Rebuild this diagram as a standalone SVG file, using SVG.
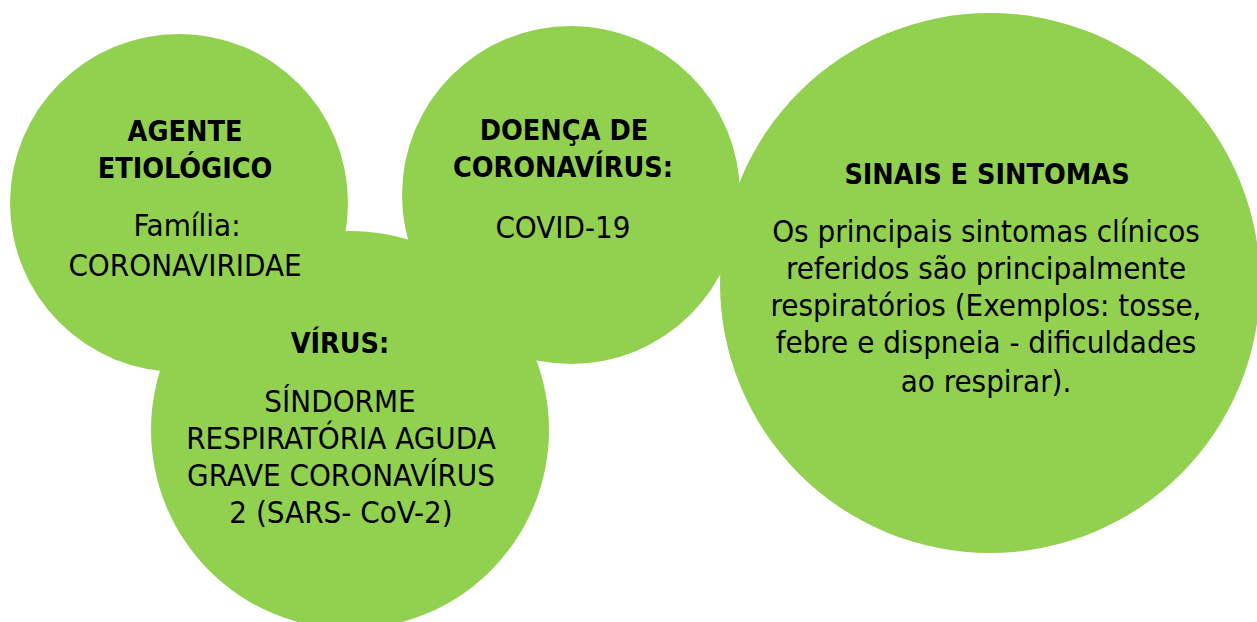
<svg xmlns="http://www.w3.org/2000/svg" width="1257" height="622" viewBox="0 0 1257 622">
<style>
.c{fill:#92D050;}
text{font-family:"DejaVu Sans Condensed","DejaVu Sans",sans-serif;font-stretch:condensed;font-size:31px;fill:#000;text-anchor:middle;}
.b{font-weight:bold;font-size:28.5px;}
</style>
<rect width="1257" height="622" fill="#fff"/>
<g id="agente">
<circle class="c" cx="179" cy="203" r="169"/>
</g>
<g id="virus">
<circle class="c" cx="350" cy="430" r="199"/>
</g>
<g id="doenca">
<circle class="c" cx="571" cy="195" r="169"/>
</g>
<g id="sinais">
<circle class="c" cx="990" cy="283" r="270"/>
</g>
<g id="connectors"></g>
<g id="labels">
<text class="b" x="185" y="141">AGENTE</text>
<text class="b" x="185" y="178">ETIOLÓGICO</text>
<text x="187" y="236">Família:</text>
<text x="185" y="276">CORONAVIRIDAE</text>
<text class="b" x="340" y="353">VÍRUS:</text>
<text x="340" y="412">SÍNDORME</text>
<text x="341" y="449">RESPIRATÓRIA AGUDA</text>
<text x="341" y="486">GRAVE CORONAVÍRUS</text>
<text x="341" y="523">2 (SARS- CoV-2)</text>
<text class="b" x="564" y="140">DOENÇA DE</text>
<text class="b" x="563" y="177">CORONAVÍRUS:</text>
<text x="563" y="238">COVID-19</text>
<text class="b" x="987" y="184">SINAIS E SINTOMAS</text>
<text x="986" y="242">Os principais sintomas clínicos</text>
<text x="986" y="279">referidos são principalmente</text>
<text x="986" y="316">respiratórios (Exemplos: tosse,</text>
<text x="986" y="353">febre e dispneia - dificuldades</text>
<text x="986" y="392">ao respirar).</text>
</g>
</svg>
